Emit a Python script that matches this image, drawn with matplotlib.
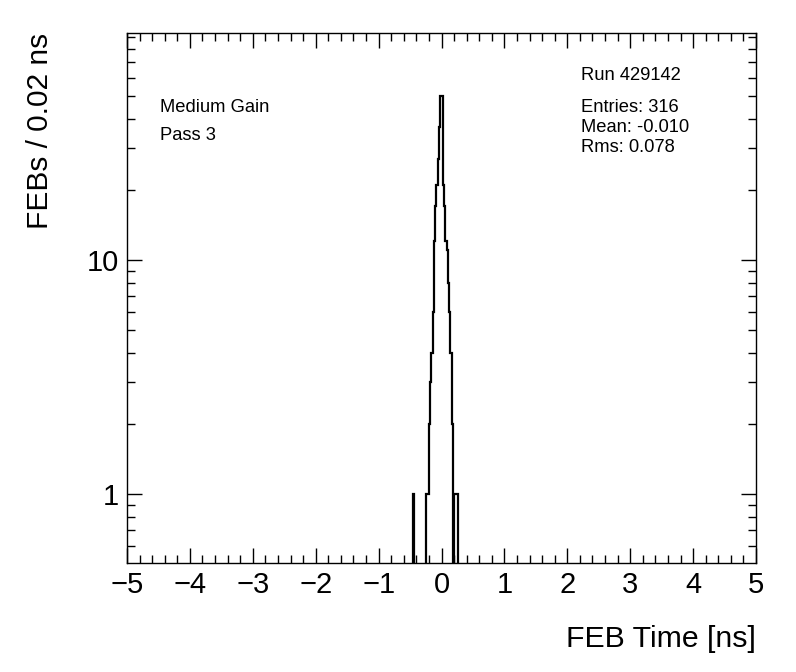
import numpy as np
import matplotlib
matplotlib.use("Agg")
from matplotlib import pyplot as plt
from matplotlib.ticker import FixedLocator, NullFormatter

plt.rcParams['font.family'] = ['Liberation Sans', 'DejaVu Sans']

# FEB time histogram, 0.02 ns bins from -5 to 5 ns; only non-empty bins listed (lower edge, count)
bin_lo = [-0.46, -0.24, -0.22, -0.20, -0.18, -0.16, -0.14, -0.12, -0.10, -0.08, -0.06, -0.04, -0.02,
          0.00, 0.02, 0.04, 0.06, 0.08, 0.10, 0.12, 0.14, 0.16, 0.20, 0.22, 0.24]
counts = [1, 1, 1, 2, 3, 4, 6, 12, 17, 21, 27, 37, 50,
          50, 21, 17, 12, 11, 8, 6, 4, 2, 1, 1, 1]

run_text = "Run 429142"
stats_text = ["Entries: 316", "Mean: -0.010", "Rms: 0.078"]
info_text = ["Medium Gain", "Pass 3"]

bin_width = 0.02
edges = np.round(np.arange(-5, 5 + bin_width / 2, bin_width), 4)
hist = np.zeros(len(edges) - 1)
for lo, c in zip(bin_lo, counts):
    hist[int(round((lo + 5) / bin_width))] = c

fig = plt.figure(figsize=(7.96, 6.72), dpi=100)
ax = fig.add_axes([127 / 796, 109 / 672, 629 / 796, 530 / 672])

ax.stairs(hist, edges, color='black', linewidth=1.6)

ax.set_yscale('log')
ax.set_xlim(-5, 5)
ax.set_ylim(0.507, 93.3)

# ROOT-like ticks
ax.xaxis.set_major_locator(FixedLocator(np.arange(-5, 6, 1)))
ax.xaxis.set_minor_locator(FixedLocator(np.arange(-5, 5.01, 0.2)))
ax.yaxis.set_major_locator(FixedLocator([1, 10]))
ax.yaxis.set_minor_locator(FixedLocator([0.6, 0.7, 0.8, 0.9] + list(range(2, 10)) + list(range(20, 100, 10))))
ax.yaxis.set_minor_formatter(NullFormatter())
ax.set_yticklabels(["1", "10"])
ax.set_xticklabels([str(v).replace('-', '\u2212') for v in range(-5, 6)])
ax.tick_params(which='both', direction='in', top=True, right=True, width=1.0, labelsize=21)
ax.tick_params(which='major', length=11, pad=6)
ax.tick_params(which='minor', length=5.5)
for s in ax.spines.values():
    s.set_linewidth(1.0)

fig.text(756 / 796, 1 - 647 / 672, "FEB Time [ns]", ha='right', va='baseline', fontsize=21.8)
fig.text(40 / 796, 1 - 33 / 672, "FEBs / 0.02 ns", ha='center', va='top', rotation=90, fontsize=21.5)

fig.text(160 / 796, 1 - 108 / 672, info_text[0], ha='left', va='center', fontsize=13.2)
fig.text(160 / 796, 1 - 135 / 672, info_text[1], ha='left', va='center', fontsize=13.2)
fig.text(581 / 796, 1 - 75 / 672, run_text, ha='left', va='center', fontsize=13.2)
for i, t in enumerate(stats_text):
    fig.text(581 / 796, 1 - (108 + 20 * i) / 672, t, ha='left', va='center', fontsize=13.2)

fig.savefig("out.png", dpi=100, facecolor='white')
